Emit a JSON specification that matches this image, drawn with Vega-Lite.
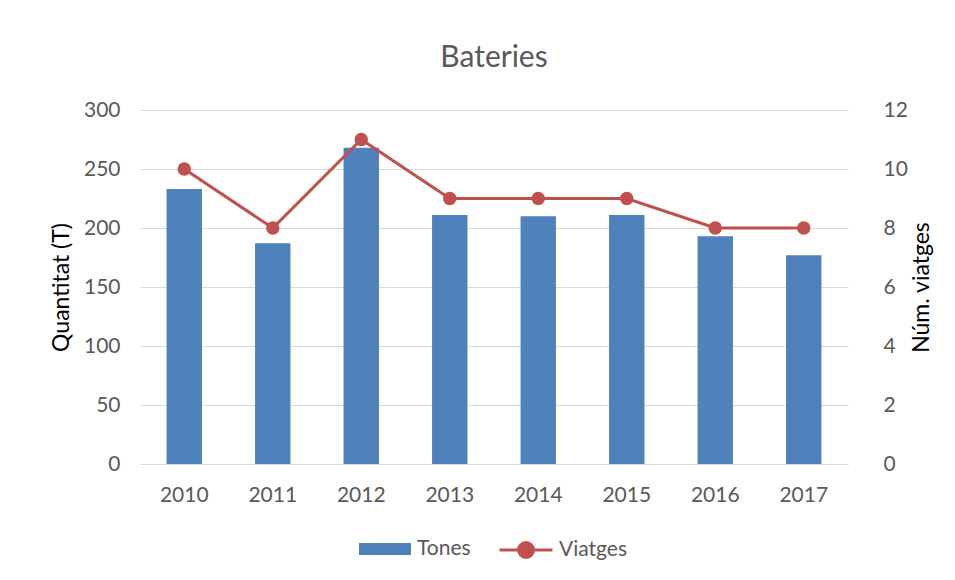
{
  "$schema": "https://vega.github.io/schema/vega-lite/v6.json",
  "autosize": "none",
  "width": 708,
  "height": 354,
  "padding": {"left": 140, "top": 110, "right": 107, "bottom": 116},
  "background": "white",
  "title": {
    "text": "Bateries",
    "font": "Lato",
    "fontSize": 30,
    "fontWeight": "normal",
    "color": "#595959",
    "anchor": "middle",
    "offset": 26
  },
  "config": {
    "view": {"stroke": null},
    "axis": {
      "labelFont": "Lato",
      "labelFontSize": 21,
      "labelColor": "#595959",
      "titleFont": "Lato",
      "titleFontSize": 23,
      "titleFontWeight": "normal",
      "titleColor": "#000000",
      "ticks": false,
      "domain": false,
      "gridColor": "#d9d9d9",
      "gridWidth": 1
    },
    "legend": {
      "labelFont": "Lato",
      "labelFontSize": 21,
      "labelColor": "#595959",
      "title": null
    }
  },
  "data": {
    "values": [
      {"year": "2010", "tones": 233, "viatges": 10},
      {"year": "2011", "tones": 187, "viatges": 8},
      {"year": "2012", "tones": 268, "viatges": 11},
      {"year": "2013", "tones": 211, "viatges": 9},
      {"year": "2014", "tones": 210, "viatges": 9},
      {"year": "2015", "tones": 211, "viatges": 9},
      {"year": "2016", "tones": 193, "viatges": 8},
      {"year": "2017", "tones": 177, "viatges": 8}
    ]
  },
  "encoding": {
    "x": {
      "field": "year",
      "type": "ordinal",
      "scale": {"paddingInner": 0.6, "paddingOuter": 0.3},
      "axis": {"title": null, "labelAngle": 0, "labelPadding": 20, "domain": true, "domainColor": "#d9d9d9", "grid": false}
    }
  },
  "layer": [
    {
      "mark": {"type": "bar"},
      "encoding": {
        "y": {
          "field": "tones",
          "type": "quantitative",
          "scale": {"domain": [0, 300]},
          "axis": {"title": "Quantitat (T)", "values": [0, 50, 100, 150, 200, 250, 300], "labelPadding": 20, "titlePadding": 10}
        },
        "fill": {
          "datum": "Tones",
          "type": "nominal",
          "scale": {"domain": ["Tones"], "range": ["#4F81BD"]},
          "legend": {
            "orient": "none",
            "legendX": 219,
            "legendY": 413,
            "symbolType": "M-1,-0.23H1V0.23H-1Z",
            "symbolSize": 2704,
            "symbolStrokeWidth": 0,
            "labelOffset": 6
          }
        }
      }
    },
    {
      "mark": {"type": "line", "strokeWidth": 3},
      "encoding": {
        "y": {
          "field": "viatges",
          "type": "quantitative",
          "scale": {"domain": [0, 12]},
          "axis": {"title": "Núm. viatges", "orient": "right", "values": [0, 2, 4, 6, 8, 10, 12], "grid": false, "labelPadding": 35, "titlePadding": 26, "titleAngle": 270}
        },
        "stroke": {
          "datum": "Viatges",
          "type": "nominal",
          "scale": {"domain": ["Viatges"], "range": ["#C0504D"]},
          "legend": {
            "orient": "none",
            "legendX": 358,
            "legendY": 412,
            "symbolType": "M-1,0H1M0.283,0A0.283,0.283 0 1,1 -0.283,0A0.283,0.283 0 1,1 0.283,0Z",
            "symbolSize": 2809,
            "symbolStrokeWidth": 3,
            "symbolFillColor": "#C0504D",
            "labelOffset": 5
          }
        }
      }
    },
    {
      "mark": {"type": "point", "filled": true, "size": 180, "color": "#C0504D", "opacity": 1},
      "encoding": {
        "y": {"field": "viatges", "type": "quantitative", "scale": {"domain": [0, 12]}, "axis": null}
      }
    }
  ],
  "resolve": {"scale": {"y": "independent", "fill": "independent", "stroke": "independent"}}
}
